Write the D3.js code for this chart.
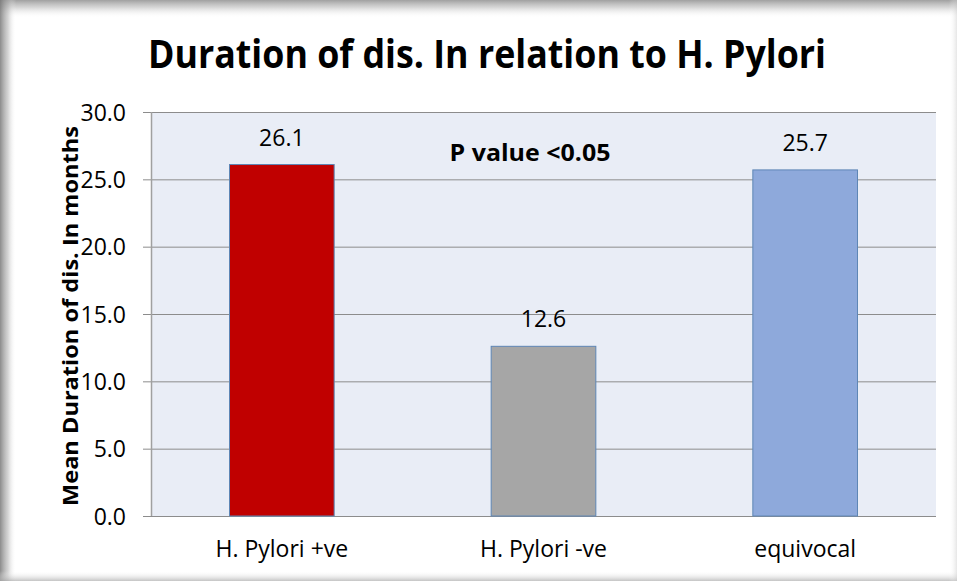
<!DOCTYPE html>
<html><head><meta charset="utf-8">
<script src="https://cdn.jsdelivr.net/npm/d3@7"></script>
<style>html,body{margin:0;padding:0;background:#fff;}svg{display:block;}</style>
</head><body>
<svg id="c" width="957" height="581"></svg>
<script>
const categories = ["H. Pylori +ve", "H. Pylori -ve", "equivocal"];
const values = [26.1, 12.6, 25.7];
const barColors = ["#C00000", "#A6A6A6", "#8EA9DB"];
const yTicks = [0, 5, 10, 15, 20, 25, 30];
const title = "Duration of dis. In relation to H. Pylori";
const yTitle = "Mean Duration of dis. In months";
const note = "P value <0.05";

const svg = d3.select("#c");
const W = 957, H = 581;
const defs = svg.append("defs");
function grad(id, x1, y1, x2, y2, stops) {
  const g = defs.append("linearGradient").attr("id", id)
    .attr("x1", x1).attr("y1", y1).attr("x2", x2).attr("y2", y2);
  stops.forEach(s => g.append("stop").attr("offset", s[0]).attr("stop-color", s[1]).attr("stop-opacity", s[2]));
}
grad("gTop", 0, 0, 0, 1, [[0, "#888", 0.8], [0.4, "#aaa", 0.5], [1, "#fff", 0]]);
grad("gLeft", 0, 0, 1, 0, [[0, "#777", 0.85], [0.5, "#aaa", 0.5], [1, "#fff", 0]]);
grad("gBot", 0, 1, 0, 0, [[0, "#aaa", 0.7], [1, "#fff", 0]]);
grad("gRight", 1, 0, 0, 0, [[0, "#ccc", 0.5], [1, "#fff", 0]]);

svg.append("rect").attr("width", W).attr("height", H).attr("fill", "#fff");
svg.append("rect").attr("x", 0).attr("y", 0).attr("width", W).attr("height", 18).attr("fill", "url(#gTop)");
svg.append("rect").attr("x", 0).attr("y", 0).attr("width", 16).attr("height", H).attr("fill", "url(#gLeft)");
svg.append("rect").attr("x", 0).attr("y", H - 10).attr("width", W).attr("height", 10).attr("fill", "url(#gBot)");
svg.append("rect").attr("x", W - 8).attr("y", 0).attr("width", 8).attr("height", H).attr("fill", "url(#gRight)");

const m = {left: 151, right: 936, top: 112, bottom: 516};
const x = d3.scaleBand().domain(categories).range([m.left, m.right]).paddingInner(0.6).paddingOuter(0.3);
const y = d3.scaleLinear().domain([0, 30]).range([m.bottom, m.top]);

svg.append("rect").attr("x", m.left).attr("y", m.top)
  .attr("width", m.right - m.left).attr("height", m.bottom - m.top).attr("fill", "#E9EDF6");

const fontN = "'Open Sans', 'Liberation Sans', sans-serif";

// gridlines
svg.append("g").selectAll("line").data(yTicks).join("line")
  .attr("x1", m.left - 8).attr("x2", m.right)
  .attr("y1", d => y(d) + 0.5).attr("y2", d => y(d) + 0.5)
  .attr("stroke", "#8c8c8c").attr("stroke-width", 1);

// y axis
const yAxis = d3.axisLeft(y).tickValues(yTicks).tickFormat(d3.format(".1f")).tickSize(0).tickPadding(25);
const ya = svg.append("g").attr("transform", `translate(${m.left},0)`).call(yAxis);
ya.select(".domain").remove();
ya.selectAll("text").attr("font-family", fontN).attr("font-size", 23).attr("fill", "#000").attr("dy", "0.35em");
svg.append("line").attr("x1", m.left + 0.5).attr("x2", m.left + 0.5).attr("y1", m.top).attr("y2", m.bottom)
  .attr("stroke", "#a0a0a0").attr("stroke-width", 1.5);

// bars
svg.append("g").selectAll("rect").data(values).join("rect")
  .attr("x", (d, i) => x(categories[i]))
  .attr("y", d => y(d))
  .attr("width", x.bandwidth())
  .attr("height", d => y(0) - y(d))
  .attr("fill", (d, i) => barColors[i])
  .attr("stroke", "#5E86B5").attr("stroke-width", 1);

// value labels
svg.append("g").selectAll("text").data(values).join("text")
  .attr("x", (d, i) => x(categories[i]) + x.bandwidth() / 2)
  .attr("y", d => y(d) - 19)
  .attr("text-anchor", "middle")
  .attr("font-family", fontN).attr("font-size", 23).attr("fill", "#000")
  .text(d => d3.format(".1f")(d));

// x axis labels
const xAxis = d3.axisBottom(x).tickSize(0).tickPadding(25);
const xa = svg.append("g").attr("transform", `translate(0,${m.bottom})`).call(xAxis);
xa.select(".domain").remove();
xa.selectAll("text").attr("font-family", fontN).attr("font-size", 23).attr("fill", "#000");

// title
svg.append("text").attr("x", 487).attr("y", 68).attr("text-anchor", "middle")
  .attr("font-family", fontN).attr("font-weight", "bold").attr("font-size", 39)
  .attr("textLength", 678).attr("lengthAdjust", "spacingAndGlyphs")
  .attr("fill", "#000").text(title);

// y title
svg.append("text").attr("transform", `translate(78,${(m.top + m.bottom) / 2 + 2}) rotate(-90)`)
  .attr("text-anchor", "middle")
  .attr("font-family", fontN).attr("font-weight", "bold").attr("font-size", 21)
  .attr("textLength", 380).attr("lengthAdjust", "spacingAndGlyphs")
  .attr("fill", "#000").text(yTitle);

// note
svg.append("text").attr("x", 530).attr("y", 161).attr("text-anchor", "middle")
  .attr("font-family", fontN).attr("font-weight", "bold").attr("font-size", 23)
  .attr("textLength", 161).attr("lengthAdjust", "spacingAndGlyphs")
  .attr("fill", "#000").text(note);
</script>
</body></html>
